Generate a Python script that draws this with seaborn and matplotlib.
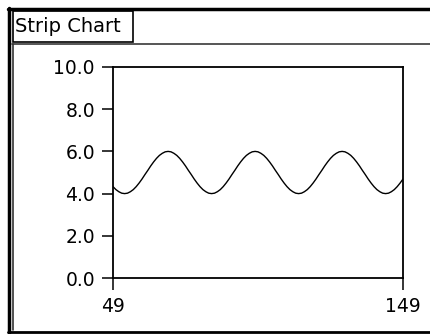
import matplotlib
matplotlib.use("Agg")
import matplotlib.pyplot as plt
from matplotlib.lines import Line2D
from matplotlib.patches import Rectangle
import seaborn as sns
import pandas as pd

title_text = "Strip Chart"
x_start = 49
x_end = 149
y_ticks = [0.0, 2.0, 4.0, 6.0, 8.0, 10.0]
x_ticks = [49, 149]
signal = [
    4.33, 4.19, 4.09, 4.02,
    4.00, 4.02, 4.09, 4.19, 4.33, 4.50, 4.69, 4.90, 5.10, 5.31,
    5.50, 5.67, 5.81, 5.91, 5.98, 6.00, 5.98, 5.91, 5.81, 5.67,
    5.50, 5.31, 5.10, 4.90, 4.69, 4.50, 4.33, 4.19, 4.09, 4.02,
    4.00, 4.02, 4.09, 4.19, 4.33, 4.50, 4.69, 4.90, 5.10, 5.31,
    5.50, 5.67, 5.81, 5.91, 5.98, 6.00, 5.98, 5.91, 5.81, 5.67,
    5.50, 5.31, 5.10, 4.90, 4.69, 4.50, 4.33, 4.19, 4.09, 4.02,
    4.00, 4.02, 4.09, 4.19, 4.33, 4.50, 4.69, 4.90, 5.10, 5.31,
    5.50, 5.67, 5.81, 5.91, 5.98, 6.00, 5.98, 5.91, 5.81, 5.67,
    5.50, 5.31, 5.10, 4.90, 4.69, 4.50, 4.33, 4.19, 4.09, 4.02,
    4.00, 4.02, 4.09, 4.19, 4.33, 4.50, 4.69,
]
samples = list(range(x_start, x_start + len(signal)))

df = pd.DataFrame({"x": samples, "y": signal})

sns.set_theme(style="white")
plt.rcParams["font.family"] = ["DejaVu Sans"]

W, H = 430, 334
fig = plt.figure(figsize=(W / 100, H / 100), dpi=100)
fig.patch.set_facecolor("white")

def fx(px):
    return px / W

def fy(py):
    return 1 - py / H

FS = 13.5

# outer frame decorations
fig.add_artist(Line2D([fx(8), fx(430)], [fy(9), fy(9)], color="black", lw=2.5))
fig.add_artist(Line2D([fx(9), fx(9)], [fy(8), fy(333)], color="black", lw=2.5))
fig.add_artist(Line2D([fx(8), fx(430)], [fy(331.5), fy(331.5)], color="black", lw=2.0))
# label box
fig.add_artist(Rectangle((fx(12.5), fy(41.5)), fx(133) - fx(12.5), fy(11.5) - fy(41.5),
                         fill=False, edgecolor="black", lw=1.2))
fig.text(fx(15), fy(27), title_text, ha="left", va="center", fontsize=FS + 0.5, color="black")
# panel border
fig.add_artist(Line2D([fx(12), fx(430)], [fy(44), fy(44)], color="#555555", lw=1.4))
fig.add_artist(Line2D([fx(12.5), fx(12.5)], [fy(44), fy(330)], color="#333333", lw=1.2))

ax = fig.add_axes([fx(113), fy(278), fx(403) - fx(113), fy(67) - fy(278)])
sns.lineplot(data=df, x="x", y="y", ax=ax, color="black", lw=1.0)
ax.set_xlim(x_start, x_end)
ax.set_ylim(0, 10)
ax.set_xticks(x_ticks)
ax.set_xticklabels([str(t) for t in x_ticks])
ax.set_yticks(y_ticks)
ax.set_yticklabels([f"{t:.1f}" for t in y_ticks])
ax.set_xlabel("")
ax.set_ylabel("")
for s in ax.spines.values():
    s.set_visible(True)
    s.set_color("black")
    s.set_linewidth(1.3)
ax.tick_params(axis="y", direction="out", length=8, width=1.1, pad=5,
               labelsize=FS, colors="black", left=True)
ax.tick_params(axis="x", direction="out", length=8.6, width=1.1, pad=5,
               labelsize=FS, colors="black", bottom=True)
ax.set_facecolor("white")

fig.savefig("out.png", dpi=100, facecolor="white")
